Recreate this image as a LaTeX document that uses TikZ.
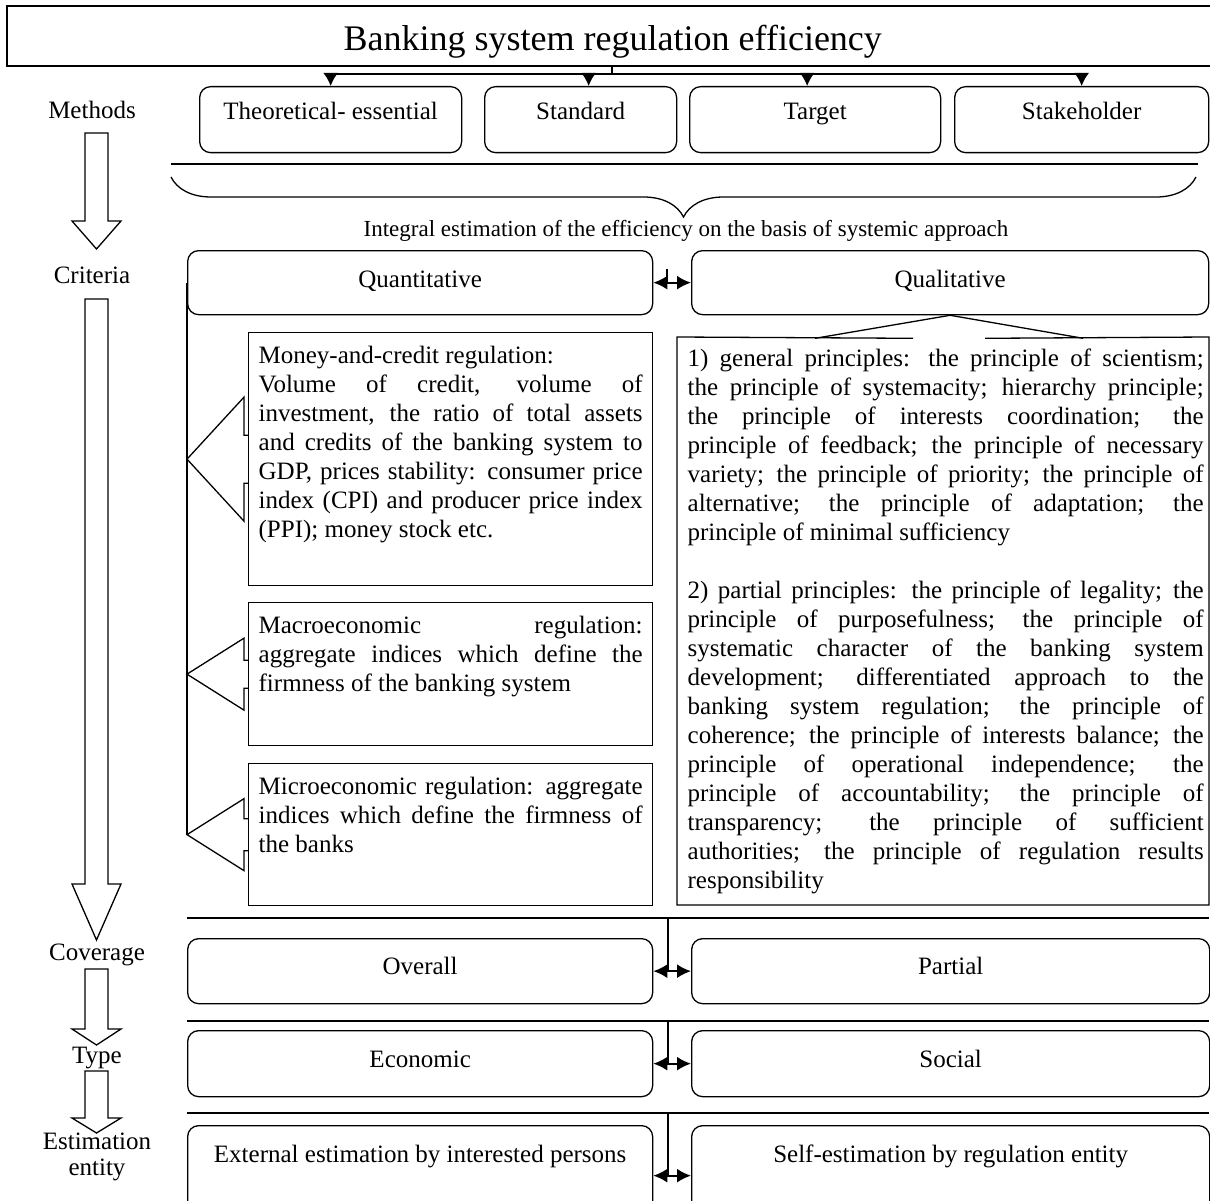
\documentclass[tikz,border=0pt]{standalone}
\usepackage{fontspec}
\setmainfont{Liberation Serif}
\usetikzlibrary{arrows.meta}
\usetikzlibrary{calc}
\usetikzlibrary{decorations.pathreplacing}
\tolerance=10000
\hbadness=10000
\hyphenpenalty=10000
\exhyphenpenalty=10000

\begin{document}
\begin{tikzpicture}[x=1pt,y=-1pt,line width=1.3pt]
    \tikzstyle{body} = [font=\fontsize{25}{29}\selectfont]
    \tikzstyle{lbl} = [body, align=center, text height=17pt, text depth=5pt]
    \tikzstyle{rbox} = [draw, rounded corners=11pt, anchor=north west, inner sep=0pt, body, text height=17pt]
    \tikzstyle{pbox} = [draw, anchor=north west, inner xsep=10pt, inner ysep=6pt, body, align=justify, text height=25pt]
    \tikzstyle{fat} = [line width=2.2pt]
    \tikzstyle{dbl} = [{Latex[length=14pt,width=14pt]}-{Latex[length=14pt,width=14pt]}, line width=2pt]
    \tikzstyle{tipdown} = [-{Latex[length=13pt,width=15pt]}]
    \tikzstyle{blockarrow} = [draw, line join=miter]
    \useasboundingbox (0,0) rectangle (1210,1201);

    % title and methods
    \node[draw, anchor=north west, minimum width=1212pt, minimum height=60pt, inner sep=0pt, line width=1.6pt, font=\fontsize{36}{40}\selectfont, text height=32pt, text depth=2pt] (title) at (6,5) {Banking system regulation efficiency};
    \node[rbox, text depth=18pt, minimum width=262pt, minimum height=66pt] (theo) at (199,86) {Theoretical- essential};
    \node[rbox, text depth=18pt, minimum width=192pt, minimum height=66pt] (std) at (484,86) {Standard};
    \node[rbox, text depth=18pt, minimum width=251pt, minimum height=66pt] (tgt) at (689,86) {Target};
    \node[rbox, text depth=18pt, minimum width=254pt, minimum height=66pt] (stk) at (954,86) {Stakeholder};
    \coordinate (hub) at (612,74);
    \draw (title.south -| hub) -- (hub);
    \draw[fat] (theo.north |- hub) -- (stk.north |- hub);
    \foreach \n/\s in {theo/0, std/8, tgt/-8, stk/0} {
        \path ([xshift=\s pt]\n.north) coordinate (mtop);
        \draw[fat, tipdown] (mtop |- hub) -- (mtop);
    }
    \draw (171,164) -- (1198,164);
    \draw[decorate, decoration={brace, amplitude=40pt}] (1196,177) -- (171,177);
    \node[font=\fontsize{23}{26}\selectfont] (integral) at (686,231) {Integral estimation of the efficiency on the basis of systemic approach};

    % left column
    \node[lbl] (meth) at (92,113) {Methods};
    \node[lbl] (crit) at (92,277) {Criteria};
    \node[lbl] (cov) at (97,954) {Coverage};
    \node[lbl] (typ) at (97,1057) {Type};
    \node[body, align=center, font=\fontsize{25}{26}\selectfont] (est) at (97,1157) {Estimation\\entity};
    \foreach \t/\b/\p in {133/221/249, 299/884/940, 969/1029/1045, 1071/1118/1133}
        \draw[blockarrow] (85,\t) -- (108,\t) -- (108,\b) -- (121,\b) -- (96.5,\p) -- (72,\b) -- (85,\b) -- cycle;

    % criteria
    \node[rbox, text depth=8pt, minimum width=465pt, minimum height=64pt] (quant) at (187,250) {Quantitative};
    \node[rbox, text depth=8pt, minimum width=517pt, minimum height=64pt] (qual) at (691,250) {Qualitative};
    \coordinate (tick) at (667,269);
    \draw (tick) -- (tick |- quant.east);
    \draw[dbl] (quant.east) -- (qual.west);

    \node[pbox, text width=384pt, text depth=216pt] (money) at (248,332) {Money-and-credit regulation:\\ Volume of credit, volume of \linebreak investment, the ratio of total assets \linebreak and credits of the banking system to \linebreak GDP, prices stability: consumer price \linebreak index (CPI) and producer price index \linebreak (PPI); money stock etc.};
    \node[pbox, text width=384pt, text depth=106pt] (macro) at (248,602) {Macroeconomic regulation: \linebreak aggregate indices which define the \linebreak firmness of the banking system};
    \node[pbox, text width=384pt, text depth=105pt] (micro) at (248,763) {Microeconomic regulation: aggregate \linebreak indices which define the firmness of \linebreak the banks};
    \draw (quant.west) -- (quant.west |- micro.west);
    \foreach \b/\o/\i in {money/62/24, macro/36/14, micro/36/16} {
        \coordinate (apex) at (quant.west |- \b.west);
        \draw ($(\b.west)+(0,-\i)$) -| ($(\b.west)+(-4,-\o)$) -- (apex) -- ($(\b.west)+(-4,\o)$) |- ($(\b.west)+(0,\i)$);
    }

    \node[body, anchor=north west, inner sep=0pt, text width=516pt, align=justify, text height=29pt] (principles) at (687,337) {1) general principles: the principle of scientism; \linebreak the principle of systemacity; hierarchy principle; \linebreak the principle of interests coordination; the \linebreak principle of feedback; the principle of necessary \linebreak variety; the principle of priority; the principle of \linebreak alternative; the principle of adaptation; the \linebreak principle of minimal sufficiency\\[29pt] 2) partial principles: the principle of legality; the \linebreak principle of purposefulness; the principle of \linebreak systematic character of the banking system \linebreak development; differentiated approach to the \linebreak banking system regulation; the principle of \linebreak coherence; the principle of interests balance; the \linebreak principle of operational independence; the \linebreak principle of accountability; the principle of \linebreak transparency; the principle of sufficient \linebreak authorities; the principle of regulation results \linebreak responsibility};
    \coordinate (pnw) at (677,337);
    \coordinate (pse) at (1209,905);
    \draw ($(qual.south)+(-37,23)$) -- (pnw) -- (pnw |- pse) -- (pse) -- (pse |- pnw) -- ($(qual.south)+(35,23)$);
    \draw ($(qual.south)+(-135,23)$) -- (qual.south) -- ($(qual.south)+(133,23)$);

    % coverage, type, estimation entity
    \node[rbox, text depth=10pt, minimum width=465pt, minimum height=65pt] (overall) at (187,938) {Overall};
    \node[rbox, text depth=10pt, minimum width=518pt, minimum height=65pt] (partial) at (691,938) {Partial};
    \node[rbox, text depth=10pt, minimum width=465pt, minimum height=66pt] (econ) at (187,1030) {Economic};
    \node[rbox, text depth=10pt, minimum width=518pt, minimum height=66pt] (social) at (691,1030) {Social};
    \node[rbox, text depth=44pt, minimum width=465pt, minimum height=100pt] (extern) at (187,1125) {External estimation by interested persons};
    \node[rbox, text depth=44pt, minimum width=518pt, minimum height=100pt] (self) at (691,1125) {Self-estimation by regulation entity};
    \foreach \r/\y in {overall/918, econ/1021, extern/1113} {
        \coordinate (rule) at (187,\y);
        \draw (rule) -- (rule -| pse);
        \coordinate (vtop) at (668,\y);
        \draw (vtop) -- (vtop |- \r.east);
    }
    \draw[dbl] (overall.east) -- (partial.west);
    \draw[dbl] (econ.east) -- (social.west);
    \draw[dbl] (extern.east) -- (self.west);
\end{tikzpicture}
\end{document}
